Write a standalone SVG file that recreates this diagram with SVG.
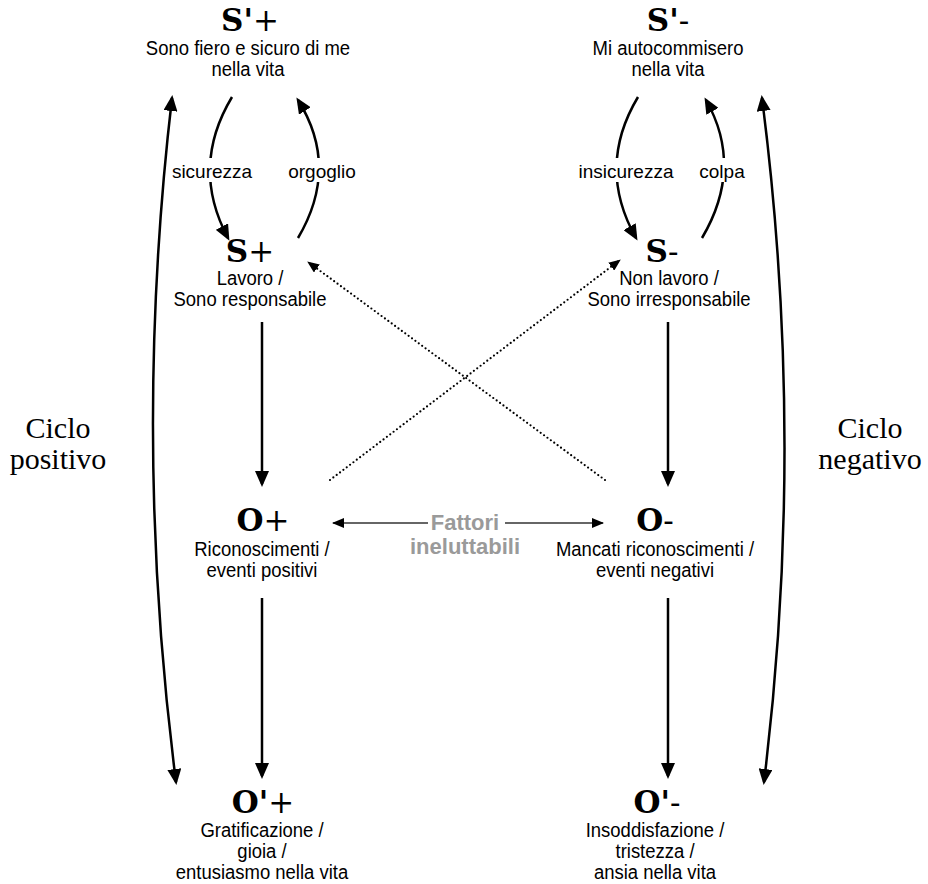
<svg xmlns="http://www.w3.org/2000/svg" width="928" height="884" viewBox="0 0 928 884">
  <defs>
    <marker id="head" markerUnits="userSpaceOnUse" markerWidth="16" markerHeight="14" refX="13" refY="7" orient="auto-start-reverse">
      <path d="M0,0 L16,7 L0,14 z" fill="#000"/>
    </marker>
    <marker id="headSmall" markerUnits="userSpaceOnUse" markerWidth="12" markerHeight="10" refX="11" refY="5" orient="auto">
      <path d="M0,0 L12,5 L0,10 z" fill="#000"/>
    </marker>
    <style>
      .title { font-family: "DejaVu Serif", "Liberation Serif", serif; font-weight: bold; font-size: 31px; fill: #000; text-anchor: middle; }
      .sign { font-weight: normal; }
      .desc { font-family: "Liberation Sans", Arial, sans-serif; font-size: 21px; fill: #000; text-anchor: middle; }
      .lbl { font-family: "Liberation Sans", Arial, sans-serif; font-size: 19px; fill: #000; text-anchor: middle; }
      .cycle { font-family: "Liberation Serif", "Times New Roman", serif; font-size: 30px; fill: #000; text-anchor: middle; }
      .fate { font-family: "Liberation Sans", Arial, sans-serif; font-weight: bold; font-size: 22px; fill: #9a9a9a; text-anchor: middle; }
      .link { fill: none; stroke: #000; stroke-width: 2.5; }
      .dotted { fill: none; stroke: #000; stroke-width: 2.2; stroke-linecap: round; stroke-dasharray: 0 4.2; }
      .thin { fill: none; stroke: #333; stroke-width: 1.3; }
    </style>
  </defs>

  <!-- connectors -->
  <g id="connectors">
    <!-- main vertical flow -->
    <path class="link" d="M262,322 L262,484" marker-end="url(#head)"/>
    <path class="link" d="M262,598 L262,776" marker-end="url(#head)"/>
    <path class="link" d="M668,322 L668,484" marker-end="url(#head)"/>
    <path class="link" d="M668,598 L668,776" marker-end="url(#head)"/>

    <!-- loops between S' and S -->
    <path class="link" d="M232,97 Q190,167 228,238" marker-end="url(#head)"/>
    <path class="link" d="M298,238 Q340,167 298,100" marker-end="url(#head)"/>
    <path class="link" d="M638,97 Q596,167 636,238" marker-end="url(#head)"/>
    <path class="link" d="M702,238 Q744,167 706,100" marker-end="url(#head)"/>

    <!-- long cycle arcs -->
    <path class="link" d="M172,98 Q132,440 176,782" marker-start="url(#head)" marker-end="url(#head)"/>
    <path class="link" d="M762,98 Q806,440 764,782" marker-start="url(#head)" marker-end="url(#head)"/>

    <!-- crossing dotted links -->
    <path class="dotted" d="M330,480 L620,260" marker-end="url(#headSmall)"/>
    <path class="dotted" d="M605,480 L308,262" marker-end="url(#headSmall)"/>

    <!-- external factors -->
    <path class="thin" d="M428,523 L333,523" marker-end="url(#headSmall)"/>
    <path class="thin" d="M505,523 L603,523" marker-end="url(#headSmall)"/>

    <!-- loop labels -->
    <g id="lbl-sicurezza">
      <rect x="168" y="158" width="88" height="24" fill="#fff"/>
      <text class="lbl" x="212" y="178">sicurezza</text>
    </g>
    <g id="lbl-orgoglio">
      <rect x="286" y="158" width="72" height="24" fill="#fff"/>
      <text class="lbl" x="322" y="178">orgoglio</text>
    </g>
    <g id="lbl-insicurezza">
      <rect x="574" y="158" width="104" height="24" fill="#fff"/>
      <text class="lbl" x="626" y="178">insicurezza</text>
    </g>
    <g id="lbl-colpa">
      <rect x="698" y="158" width="50" height="24" fill="#fff"/>
      <text class="lbl" x="722" y="178">colpa</text>
    </g>
  </g>

  <!-- nodes -->
  <g id="node-S1-plus">
    <text class="title" x="250" y="31">S'<tspan class="sign">+</tspan></text>
    <g transform="translate(248 0) scale(0.88 1)">
      <text class="desc" x="0" y="55">Sono fiero e sicuro di me</text>
      <text class="desc" x="0" y="76">nella vita</text>
    </g>
  </g>
  <g id="node-S1-minus">
    <text class="title" x="668" y="31">S'<tspan class="sign">-</tspan></text>
    <g transform="translate(668 0) scale(0.88 1)">
      <text class="desc" x="0" y="55">Mi autocommisero</text>
      <text class="desc" x="0" y="76">nella vita</text>
    </g>
  </g>
  <g id="node-S-plus">
    <text class="title" x="250" y="262">S<tspan class="sign">+</tspan></text>
    <g transform="translate(250 0) scale(0.88 1)">
      <text class="desc" x="0" y="285">Lavoro /</text>
      <text class="desc" x="0" y="306">Sono responsabile</text>
    </g>
  </g>
  <g id="node-S-minus">
    <text class="title" x="662" y="262">S<tspan class="sign">-</tspan></text>
    <g transform="translate(669 0) scale(0.88 1)">
      <text class="desc" x="0" y="285">Non lavoro /</text>
      <text class="desc" x="0" y="306">Sono irresponsabile</text>
    </g>
  </g>
  <g id="node-O-plus">
    <text class="title" x="263" y="531">O<tspan class="sign">+</tspan></text>
    <g transform="translate(262 0) scale(0.88 1)">
      <text class="desc" x="0" y="556">Riconoscimenti /</text>
      <text class="desc" x="0" y="577">eventi positivi</text>
    </g>
  </g>
  <g id="node-O-minus">
    <text class="title" x="655" y="531">O<tspan class="sign">-</tspan></text>
    <g transform="translate(655 0) scale(0.88 1)">
      <text class="desc" x="0" y="556">Mancati riconoscimenti /</text>
      <text class="desc" x="0" y="577">eventi negativi</text>
    </g>
  </g>
  <g id="node-O1-plus">
    <text class="title" x="263" y="813">O'<tspan class="sign">+</tspan></text>
    <g transform="translate(262 0) scale(0.88 1)">
      <text class="desc" x="0" y="837">Gratificazione /</text>
      <text class="desc" x="0" y="858">gioia /</text>
      <text class="desc" x="0" y="879">entusiasmo nella vita</text>
    </g>
  </g>
  <g id="node-O1-minus">
    <text class="title" x="657" y="813">O'<tspan class="sign">-</tspan></text>
    <g transform="translate(655 0) scale(0.88 1)">
      <text class="desc" x="0" y="837">Insoddisfazione /</text>
      <text class="desc" x="0" y="858">tristezza /</text>
      <text class="desc" x="0" y="879">ansia nella vita</text>
    </g>
  </g>
  <g id="node-fattori">
    <text class="fate" x="465" y="530">Fattori</text>
    <text class="fate" x="465" y="554">ineluttabili</text>
  </g>
  <g id="node-ciclo-positivo">
    <text class="cycle" x="58" y="438">Ciclo</text>
    <text class="cycle" x="58" y="469">positivo</text>
  </g>
  <g id="node-ciclo-negativo">
    <text class="cycle" x="870" y="438">Ciclo</text>
    <text class="cycle" x="870" y="469">negativo</text>
  </g>
</svg>
